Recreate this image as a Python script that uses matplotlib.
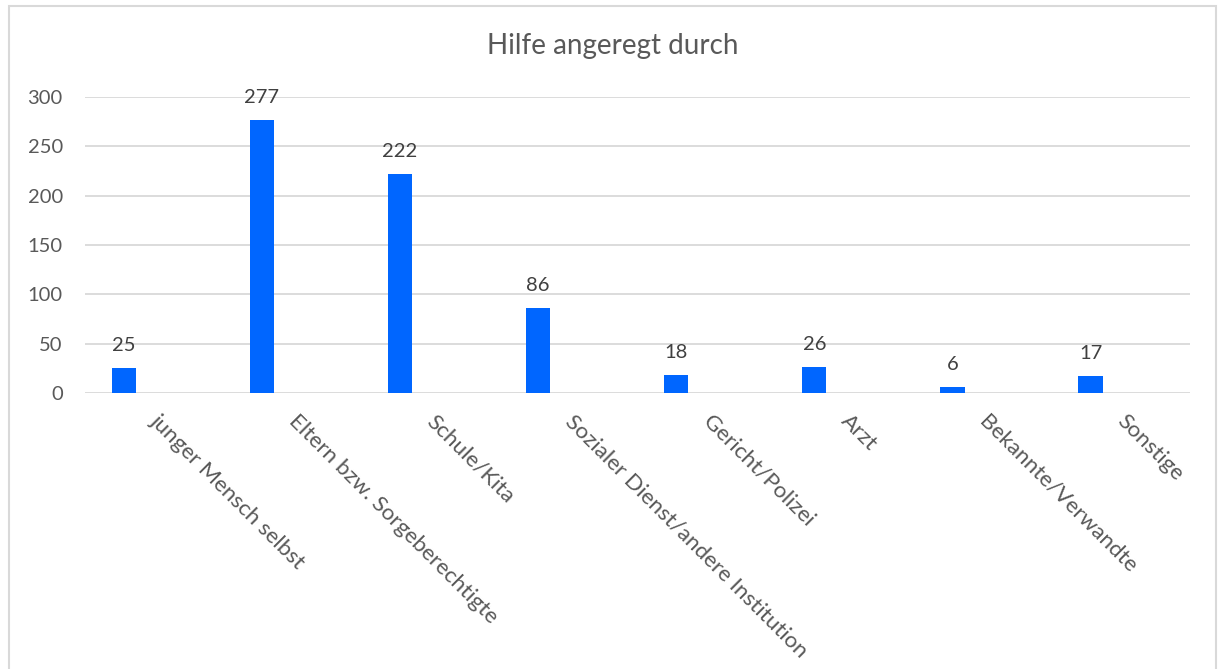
import numpy as np
import matplotlib.pyplot as plt
from matplotlib.patches import Rectangle

plt.rcParams['font.family'] = ['Lato', 'DejaVu Sans']

categories = [
    "junger Mensch selbst",
    "Eltern bzw. Sorgeberechtigte",
    "Schule/Kita",
    "Sozialer Dienst/andere Institution",
    "Gericht/Polizei",
    "Arzt",
    "Bekannte/Verwandte",
    "Sonstige",
]
values = [25, 277, 222, 86, 18, 26, 6, 17]
yticks = [0, 50, 100, 150, 200, 250, 300]

text_col = "#595959"
grid_col = "#d9d9d9"
bar_col = "#0066ff"

fig = plt.figure(figsize=(12.18, 6.69), dpi=100)
ax = fig.add_axes([85 / 1218, 1 - 393 / 669, 1105 / 1218, 296 / 669])

# outer chart border
fig.patches.append(Rectangle((9 / 1218, -0.05), 1207 / 1218, 1.05 - 6 / 669,
                             transform=fig.transFigure, fill=False,
                             edgecolor=grid_col, linewidth=1.5))

x = np.arange(len(categories))
bars = ax.bar(x - 0.22, values, width=0.175, color=bar_col, zorder=3)

for b, v in zip(bars, values):
    ax.annotate(str(v), (b.get_x() + b.get_width() / 2, v),
                xytext=(0, 10), textcoords="offset points",
                ha="center", va="bottom", fontsize=14.5, color="#404040")

ax.set_xlim(-0.5, len(categories) - 0.5)
ax.set_ylim(0, 300)
ax.set_yticks(yticks)
ax.yaxis.grid(True, color=grid_col, linewidth=1.3, zorder=0)
ax.tick_params(axis="y", length=0, labelsize=14.5, labelcolor=text_col, pad=16)
ax.tick_params(axis="x", length=0)
ax.set_xticks(x)
ax.set_xticklabels([])
for s in ax.spines.values():
    s.set_visible(False)

for i, name in enumerate(categories):
    ax.annotate(name, (i, 0), xytext=(5, -13), textcoords="offset points",
                rotation=-45, rotation_mode="anchor", ha="left", va="top",
                fontsize=16.2, color=text_col)

fig.text(0.503, 1 - 46 / 669, "Hilfe angeregt durch", ha="center", va="center",
         fontsize=20, color=text_col)

fig.savefig("out.png", dpi=100, facecolor="white")
